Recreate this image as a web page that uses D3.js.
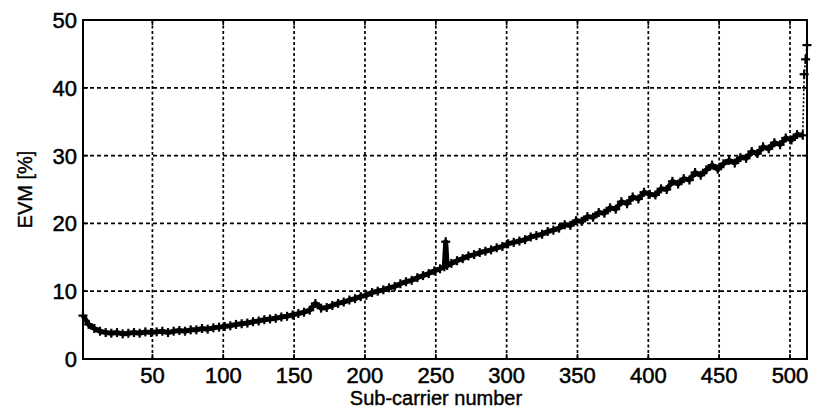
<!DOCTYPE html>
<html>
<head>
<meta charset="utf-8">
<script src="https://cdn.jsdelivr.net/npm/d3@7"></script>
<style>
  body { margin: 0; background: #fff; }
  svg { display: block; }
  .tick-label { font-family: "Liberation Sans", Arial, sans-serif; font-size: 22px; fill: #000; stroke: #000; stroke-width: 0.5px; }
  .axis-title { font-family: "Liberation Sans", Arial, sans-serif; font-size: 20px; fill: #000; stroke: #000; stroke-width: 0.4px; }
</style>
</head>
<body>
<div id="container"></div>
<script>
// sub-carrier index: every 4th carrier, a few around the spike, and the last three
var subcarrier = d3.range(1, 254, 4)
  .concat([256, 257, 258])
  .concat(d3.range(261, 510, 4))
  .concat([510, 511, 512]);

// EVM [%]
var evm = [
  // 1 .. 253
  6.4, 5.1, 4.5, 4.1, 3.9, 3.8, 3.9, 3.7, 3.8, 3.9, 3.8, 4.0, 3.9, 4.0, 4.1, 3.9,
  4.1, 4.2, 4.1, 4.3, 4.3, 4.5, 4.4, 4.6, 4.7, 4.8, 4.9, 5.1, 5.2, 5.3, 5.5, 5.6,
  5.8, 5.9, 6.0, 6.2, 6.3, 6.5, 6.7, 6.9, 7.2, 8.2, 7.5, 7.6, 7.9, 8.2, 8.4, 8.7,
  8.9, 9.2, 9.4, 9.8, 10.0, 10.2, 10.5, 10.7, 11.1, 11.4, 11.6, 12.0, 12.3, 12.6, 13.0, 13.3,
  // 256 .. 258
  13.6, 17.3, 13.8,
  // 261 .. 333
  14.1, 14.5, 14.8, 15.2, 15.4, 15.7, 15.9, 16.1, 16.4, 16.6, 17.0, 17.2, 17.4, 17.6, 18.0, 18.2,
  18.4, 18.8, 19.0,
  // 337 .. 509
  19.3, 19.8, 19.7, 20.4, 20.3, 21.0, 20.9, 21.6, 21.5, 22.3, 22.1, 23.2, 22.9, 23.9, 23.6, 24.6,
  24.3, 24.2, 25.1, 25.0, 26.2, 25.8, 26.6, 26.4, 27.5, 27.1, 27.9, 28.6, 28.0, 28.8, 29.3, 28.9,
  29.7, 29.6, 30.6, 30.3, 31.3, 31.0, 31.9, 31.6, 32.6, 32.3, 33.1, 33.0,
  // 510 .. 512
  42.0, 44.2, 46.3
];

var xTicks = [50, 100, 150, 200, 250, 300, 350, 400, 450, 500];
var yTicks = [0, 10, 20, 30, 40, 50];

var margin = { top: 20, left: 83, right: 7, bottom: 54 };
var W = 814, H = 413;
var w = W - margin.left - margin.right;
var h = H - margin.top - margin.bottom;

var svg = d3.select("#container")
  .append("svg")
  .attr("width", W)
  .attr("height", H);

var g = svg.append("g")
  .attr("transform", "translate(" + margin.left + "," + margin.top + ")");

var x = d3.scaleLinear().domain([1, 512]).range([0, w]);
var y = d3.scaleLinear().domain([0, 50]).range([h, 0]);

// grid
g.append("g").selectAll("line")
  .data(xTicks)
  .enter().append("line")
  .attr("x1", function (d) { return x(d); })
  .attr("x2", function (d) { return x(d); })
  .attr("y1", 0).attr("y2", h)
  .attr("stroke", "#000")
  .attr("stroke-width", 1.7)
  .attr("stroke-dasharray", "3,2.5");

g.append("g").selectAll("line")
  .data(yTicks.slice(1, -1))
  .enter().append("line")
  .attr("y1", function (d) { return y(d); })
  .attr("y2", function (d) { return y(d); })
  .attr("x1", 0).attr("x2", w)
  .attr("stroke", "#000")
  .attr("stroke-width", 1.7)
  .attr("stroke-dasharray", "4,3");

// inward ticks, all four sides
var tl = 5;
var ticks = g.append("g").attr("stroke", "#000").attr("stroke-width", 1.6);
xTicks.forEach(function (d) {
  ticks.append("line").attr("x1", x(d)).attr("x2", x(d)).attr("y1", h).attr("y2", h - tl);
  ticks.append("line").attr("x1", x(d)).attr("x2", x(d)).attr("y1", 0).attr("y2", tl);
});
yTicks.forEach(function (d) {
  ticks.append("line").attr("y1", y(d)).attr("y2", y(d)).attr("x1", 0).attr("x2", tl);
  ticks.append("line").attr("y1", y(d)).attr("y2", y(d)).attr("x1", w).attr("x2", w - tl);
});

// data line
var pts = subcarrier.map(function (n, i) { return [n, evm[i]]; });
var line = d3.line()
  .x(function (d) { return x(d[0]); })
  .y(function (d) { return y(d[1]); });

g.append("path")
  .datum(pts.slice(0, 130))
  .attr("d", line)
  .attr("fill", "none")
  .attr("stroke", "#000")
  .attr("stroke-width", 5)
  .attr("stroke-linejoin", "round");

g.append("path")
  .datum(pts.slice(129))
  .attr("d", line)
  .attr("fill", "none")
  .attr("stroke", "#000")
  .attr("stroke-width", 1.6)
  .attr("stroke-dasharray", "2,2");

// '+' markers
var ms = 4.5;
var marks = g.append("g").attr("stroke", "#000").attr("stroke-width", 2.2);
pts.forEach(function (d) {
  var px = x(d[0]), py = y(d[1]);
  marks.append("line").attr("x1", px - ms).attr("x2", px + ms).attr("y1", py).attr("y2", py);
  marks.append("line").attr("x1", px).attr("x2", px).attr("y1", py - ms).attr("y2", py + ms);
});

// frame
g.append("rect")
  .attr("x", 0).attr("y", 0)
  .attr("width", w).attr("height", h)
  .attr("fill", "none")
  .attr("stroke", "#000")
  .attr("stroke-width", 2);

// tick labels
g.append("g").selectAll("text")
  .data(xTicks)
  .enter().append("text")
  .attr("class", "tick-label")
  .attr("x", function (d) { return x(d); })
  .attr("y", h + 24)
  .attr("text-anchor", "middle")
  .text(function (d) { return d; });

g.append("g").selectAll("text")
  .data(yTicks)
  .enter().append("text")
  .attr("class", "tick-label")
  .attr("x", -6)
  .attr("y", function (d) { return y(d); })
  .attr("dy", "0.36em")
  .attr("text-anchor", "end")
  .text(function (d) { return d; });

// axis titles
svg.append("text")
  .attr("class", "axis-title")
  .attr("x", 436)
  .attr("y", 405)
  .attr("text-anchor", "middle")
  .text("Sub-carrier number");

svg.append("text")
  .attr("class", "axis-title")
  .attr("transform", "translate(32," + (margin.top + h / 2) + ") rotate(-90)")
  .attr("text-anchor", "middle")
  .text("EVM [%]");
</script>
</body>
</html>
